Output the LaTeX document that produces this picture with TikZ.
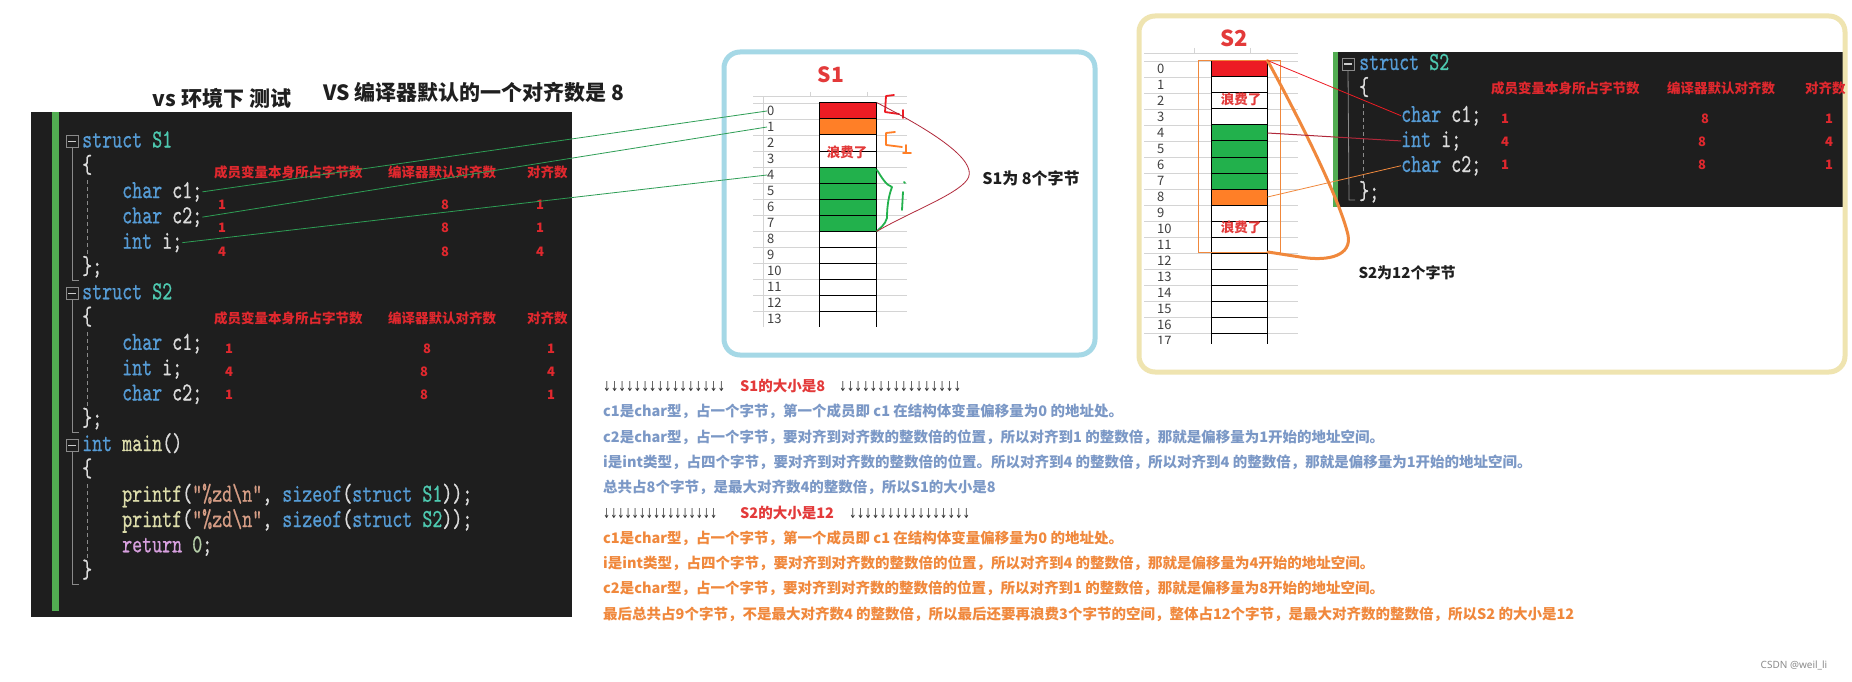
\documentclass[tikz,border=0pt]{standalone}
\usepackage{fontspec}
\usepackage{graphicx}
\setmainfont{Noto Sans CJK SC}
\newfontfamily\djv{DejaVu Sans}
\newfontfamily\wmfont{Noto Sans}
\newfontfamily\codefont{lmmono10-regular.otf}[FakeStretch=0.733,FakeBold=0.6]
\definecolor{bgdark}{HTML}{1E1E1E}
\definecolor{kw}{HTML}{569CD6}
\definecolor{ty}{HTML}{4EC9B0}
\definecolor{tx}{HTML}{DCDCDC}
\definecolor{fn}{HTML}{DCDCAA}
\definecolor{st}{HTML}{D69D85}
\definecolor{rt}{HTML}{D8A0DF}
\definecolor{nm}{HTML}{B5CEA8}
\definecolor{vsgreen}{HTML}{52AD52}
\definecolor{tred}{HTML}{E0282E}
\definecolor{cellred}{HTML}{ED1C24}
\definecolor{cellorange}{HTML}{FF7F27}
\definecolor{cellgreen}{HTML}{22B14C}
\definecolor{boxblue}{HTML}{A5D8E6}
\definecolor{boxcream}{HTML}{EFE4B0}
\definecolor{lineblue}{HTML}{7B98C6}
\definecolor{lineorange}{HTML}{F0883C}
\definecolor{headred}{HTML}{E33A3A}
\definecolor{gridc}{HTML}{D4D4D4}
\definecolor{conngreen}{HTML}{2E9E55}
\definecolor{curvered}{HTML}{B0283A}
\definecolor{guidec}{HTML}{8A8A8A}
\newcommand\ckw[1]{\textcolor{kw}{#1}}
\newcommand\cty[1]{\textcolor{ty}{#1}}
\newcommand\cfn[1]{\textcolor{fn}{#1}}
\newcommand\cst[1]{\textcolor{st}{#1}}
\newcommand\crt[1]{\textcolor{rt}{#1}}
\newcommand\cnm[1]{\textcolor{nm}{#1}}
\newcommand\darrows[1]{\resizebox{#1pt}{10pt}{\djv ↓↓↓↓↓↓↓↓↓↓↓↓↓↓↓↓}}
\tikzset{
  code/.style={font=\codefont\fontsize{26}{26}\selectfont, text=tx, inner sep=0, anchor=base west},
  hdr/.style={font=\bfseries\fontsize{13.5}{13.5}\selectfont, text=tred, inner sep=0, anchor=west},
  num/.style={font=\bfseries\fontsize{13}{13}\selectfont, text=tred, inner sep=0},
  rowlbl/.style={font=\fontsize{13}{13}\selectfont, text=black!75, inner sep=0, anchor=west},
  cell/.style={draw=black, line width=1pt, inner sep=0, minimum height=16pt},
  foldbox/.style={draw=guidec, line width=0.8pt, minimum size=12pt, inner sep=0},
  guide/.style={draw=guidec, line width=0.8pt},
  dguide/.style={draw=guidec, line width=0.8pt, dash pattern=on 4pt off 3pt},
  waste/.style={font=\bfseries\fontsize{13.5}{13.5}\selectfont, text=headred, inner sep=0},
  title/.style={font=\bfseries\fontsize{21}{21}\selectfont, text=black!88, inner sep=0},
  blk/.style={font=\bfseries\fontsize{14.5}{14.5}\selectfont, inner sep=0, anchor=base west},
  arr/.style={inner sep=0, anchor=base west, text=black!80},
  conn/.style={draw=conngreen, line width=0.8pt},
  hand/.style={line width=1.8pt, line cap=round, line join=round},
}
\begin{document}
\begin{tikzpicture}[x=1pt,y=-1pt]
\useasboundingbox (0,0) rectangle (1852,682);
\fill[white] (0,0) rectangle (1852,682);

% titles
\node[title] (t1) at (222,98) {vs 环境下 测试};
\node[title] (t2) at (474,92) {VS 编译器默认的一个对齐数是 8};

% left code panel
\fill[bgdark] (31,112) rectangle (572,617);
\fill[vsgreen] (52,112) rectangle (59,611);

\node[foldbox] (f1) at (72,141.5) {};
\node[foldbox] (f2) at (72,293.3) {};
\node[foldbox] (f3) at (72,445.1) {};
\foreach \f in {f1,f2,f3} \draw[guide, draw=black!20, line width=1.2pt] ([xshift=2.5pt]\f.west) -- ([xshift=-2.5pt]\f.east);
\draw[guide] (f1.south) -- (72,280) -- (79,280);
\draw[guide] (f2.south) -- (72,432) -- (79,432);
\draw[guide] (f3.south) -- (72,584) -- (79,584);
\draw[dguide] (87,180) -- (87,256);
\draw[dguide] (87,332) -- (87,408);
\draw[dguide] (87,484) -- (87,560);

\node[code] (L0) at (82,147.5) {\ckw{struct} \cty{S1}};
\node[code] (L1) at (82,172.8) {\{};
\node[code] (L2) at (122,198.1) {\ckw{char} c1;};
\node[code] (L3) at (122,223.4) {\ckw{char} c2;};
\node[code] (L4) at (122,248.7) {\ckw{int} i;};
\node[code] (L5) at (82,274.0) {\};};
\node[code] (L6) at (82,299.3) {\ckw{struct} \cty{S2}};
\node[code] (L7) at (82,324.6) {\{};
\node[code] (L8) at (122,349.9) {\ckw{char} c1;};
\node[code] (L9) at (122,375.2) {\ckw{int} i;};
\node[code] (L10) at (122,400.5) {\ckw{char} c2;};
\node[code] (L11) at (82,425.8) {\};};
\node[code] (L12) at (82,451.1) {\ckw{int} \cfn{main}()};
\node[code] (L13) at (82,476.4) {\{};
\node[code] (L14) at (122,501.7) {\cfn{printf}(\cst{"\%zd\textbackslash n"}, \ckw{sizeof}(\ckw{struct} \cty{S1}));};
\node[code] (L15) at (122,527.0) {\cfn{printf}(\cst{"\%zd\textbackslash n"}, \ckw{sizeof}(\ckw{struct} \cty{S2}));};
\node[code] (L16) at (122,552.3) {\crt{return} \cnm{0};};
\node[code] (L17) at (82,577.6) {\}};

% tables in left panel
\node[hdr] (h1a) at (214,172) {成员变量本身所占字节数};
\node[hdr] (h1b) at (388,172) {编译器默认对齐数};
\node[hdr] (h1c) at (527,172) {对齐数};
\node[num] (n11) at (222,205) {1}; \node[num] (n12) at (445,205) {8}; \node[num] (n13) at (540,205) {1};
\node[num] (n21) at (222,228) {1}; \node[num] (n22) at (445,228) {8}; \node[num] (n23) at (540,228) {1};
\node[num] (n31) at (222,252) {4}; \node[num] (n32) at (445,252) {8}; \node[num] (n33) at (540,252) {4};

\node[hdr] (h2a) at (214,318) {成员变量本身所占字节数};
\node[hdr] (h2b) at (388,318) {编译器默认对齐数};
\node[hdr] (h2c) at (527,318) {对齐数};
\node[num] (m11) at (229,349) {1}; \node[num] (m12) at (427,349) {8}; \node[num] (m13) at (551,349) {1};
\node[num] (m21) at (229,372) {4}; \node[num] (m22) at (424,372) {8}; \node[num] (m23) at (551,372) {4};
\node[num] (m31) at (229,395) {1}; \node[num] (m32) at (424,395) {8}; \node[num] (m33) at (551,395) {1};

% S1 box
\draw[boxblue, line width=5pt, rounded corners=16pt] (724,52) rectangle (1095,355);
\node[font=\bfseries\fontsize{21}{21}\selectfont, text=headred, inner sep=0] (s1t) at (831,75) {S1};
\draw[gridc, line width=0.8pt] (753,96.7) -- (907,96.7);
\draw[gridc, line width=0.8pt] (810,92) -- (810,96.7);
\draw[gridc, line width=0.8pt] (867,92) -- (867,96.7);
\draw[gridc, line width=0.8pt] (763,97) -- (763,327);
\foreach \k in {0,...,13} \draw[gridc, line width=0.8pt] (753,{103+16*\k}) -- (907,{103+16*\k});
\foreach \k in {0,...,13} \node[rowlbl] (s1l\k) at (767,{111+16*\k}) {\k};
\begin{scope}
\clip (800,95) rectangle (900,326.6);
\foreach \k/\c in {0/cellred,1/cellorange,2/white,3/white,4/cellgreen,5/cellgreen,6/cellgreen,7/cellgreen,8/white,9/white,10/white,11/white,12/white,13/white}
  \node[cell, fill=\c, minimum width=57pt] (s1c\k) at (847.5,{111+16*\k}) {};
\end{scope}
\node[waste] (s1w) at (847,152) {浪费了};

% hand marks S1
\draw[hand, draw=cellred] (894,95) -- (886,96) -- (885,112) -- (899,114);
\draw[hand, draw=cellred] (903,110) -- (903,118);
\draw[hand, draw=cellorange] (895,132) -- (886,133) -- (886,145) -- (902,147);
\draw[hand, draw=cellorange] (906,145) -- (906,153);
\draw[hand, draw=cellorange] (903,153) -- (911,153);
\draw[hand, draw=cellgreen] (877,170) .. controls (882,178) and (886,185) .. (892,187) .. controls (889,195) and (887,205) .. (887,218) .. controls (885,225) and (880,228) .. (877,231);
\draw[hand, draw=cellgreen] (904,182) -- (905,183);
\draw[hand, draw=cellgreen] (903,192) -- (902,210);

\draw[curvered, line width=0.8pt] (s1c0.north east) .. controls (950,140) and (978,165) .. (967,180) .. controls (956,195) and (910,212) .. (s1c7.south east);
\node[font=\bfseries\fontsize{16}{16}\selectfont, inner sep=0, text=black!88] (s1s) at (1031,178) {S1为 8个字节};

% green connectors
\draw[conn] (L2.east) -- (s1l0.west);
\draw[conn] (L3.east) -- (s1l1.west);
\draw[conn] (L4.east) -- (s1l4.west);

% S2 box
\fill[bgdark] (1333,52) rectangle (1845,207);
\fill[vsgreen] (1333,52) rectangle (1338,207);
\draw[boxcream, line width=5pt, rounded corners=16pt] (1139,16) rectangle (1845,372);
\node[font=\bfseries\fontsize{22}{22}\selectfont, text=headred, inner sep=0] (s2t) at (1234,38) {S2};

\draw[gridc, line width=0.8pt] (1144,53) -- (1298,53);
\draw[gridc, line width=0.8pt] (1194,48) -- (1194,53);
\draw[gridc, line width=0.8pt] (1250,48) -- (1250,53);
\begin{scope}
\clip (1140,45) rectangle (1300,343);
\foreach \k in {0,...,17} \draw[gridc, line width=0.8pt] (1144,{61+16*\k}) -- (1298,{61+16*\k});
\foreach \k in {0,...,17} \node[rowlbl] (s2l\k) at (1157,{69+16*\k}) {\k};
\foreach \k/\c in {0/cellred,1/white,2/white,3/white,4/cellgreen,5/cellgreen,6/cellgreen,7/cellgreen,8/cellorange,9/white,10/white,11/white,12/white,13/white,14/white,15/white,16/white,17/white}
  \node[cell, fill=\c, minimum width=56pt] (s2c\k) at (1239,{69+16*\k}) {};
\end{scope}
\node[waste] (s2w1) at (1241,99) {浪费了};
\node[waste] (s2w2) at (1241,227) {浪费了};
\draw[lineorange, line width=1pt] (1198,61) rectangle (1280,252);
\draw[lineorange, line width=3pt, line cap=round] (s2c0.north east) .. controls (1300,120) and (1340,200) .. (1348,235) .. controls (1352,255) and (1330,262) .. (1300,257) -- (1268,252);
\node[font=\bfseries\fontsize{15}{15}\selectfont, inner sep=0, text=black!88] (s2s) at (1407,273) {S2为12个字节};

% S2 inner code
\node[foldbox] (f4) at (1348,64) {};
\draw[guide, draw=black!20, line width=1.2pt] ([xshift=2.5pt]f4.west) -- ([xshift=-2.5pt]f4.east);
\draw[guide] (f4.south) -- (1349,200) -- (1355,200);
\draw[dguide] (1363,104) -- (1363,182);
\node[code] (R0) at (1359,70) {\ckw{struct} \cty{S2}};
\node[code] (R1) at (1359,95) {\{};
\node[code] (R2) at (1401,122) {\ckw{char} c1;};
\node[code] (R3) at (1401,147) {\ckw{int} i;};
\node[code] (R4) at (1401,172) {\ckw{char} c2;};
\node[code] (R5) at (1359,199) {\};};
\node[hdr] (h3a) at (1491,88) {成员变量本身所占字节数};
\node[hdr] (h3b) at (1667,88) {编译器默认对齐数};
\node[hdr] (h3c) at (1805,88) {对齐数};
\node[num] (r11) at (1505,119) {1}; \node[num] (r12) at (1705,119) {8}; \node[num] (r13) at (1829,119) {1};
\node[num] (r21) at (1505,142) {4}; \node[num] (r22) at (1702,142) {8}; \node[num] (r23) at (1829,142) {4};
\node[num] (r31) at (1505,165) {1}; \node[num] (r32) at (1702,165) {8}; \node[num] (r33) at (1829,165) {1};

\draw[cellred, line width=0.8pt] (s2c0.north east) -- (R2.west);
\draw[curvered, line width=1pt] (s2c4.east) -- (R3.west);
\draw[lineorange, line width=0.8pt] (s2c8.east) -- (R4.west);

% text block
\node[arr] (a1) at (603,391) {\darrows{122}};
\node[blk, text=headred] (b0) at (740,391) {S1的大小是8};
\node[arr] (a2) at (839,391) {\darrows{122}};
\node[blk, text=lineblue] (b1) at (603,416) {c1是char型，占一个字节，第一个成员即 c1 在结构体变量偏移量为0 的地址处。};
\node[blk, text=lineblue] (b2) at (603,442) {c2是char型，占一个字节，要对齐到对齐数的整数倍的位置，所以对齐到1 的整数倍，那就是偏移量为1开始的地址空间。};
\node[blk, text=lineblue] (b3) at (603,467) {i是int类型，占四个字节，要对齐到对齐数的整数倍的位置。所以对齐到4 的整数倍，所以对齐到4 的整数倍，那就是偏移量为1开始的地址空间。};
\node[blk, text=lineblue] (b4) at (603,492) {总共占8个字节，是最大对齐数4的整数倍，所以S1的大小是8};
\node[arr] (a3) at (603,518) {\darrows{114}};
\node[blk, text=headred] (b5) at (740,518) {S2的大小是12};
\node[arr] (a4) at (849,518) {\darrows{121}};
\node[blk, text=lineorange] (b6) at (603,543) {c1是char型，占一个字节，第一个成员即 c1 在结构体变量偏移量为0 的地址处。};
\node[blk, text=lineorange] (b7) at (603,568) {i是int类型，占四个字节，要对齐到对齐数的整数倍的位置，所以对齐到4 的整数倍，那就是偏移量为4开始的地址空间。};
\node[blk, text=lineorange] (b8) at (603,593) {c2是char型，占一个字节，要对齐到对齐数的整数倍的位置，所以对齐到1 的整数倍，那就是偏移量为8开始的地址空间。};
\node[blk, text=lineorange] (b9) at (603,619) {最后总共占9个字节，不是最大对齐数4 的整数倍，所以最后还要再浪费3个字节的空间，整体占12个字节，是最大对齐数的整数倍，所以S2 的大小是12};

\node[font=\wmfont\fontsize{10}{10}\selectfont, text=black!45, inner sep=0] (wm) at (1794,665) {CSDN @weil\_li};
\end{tikzpicture}
\end{document}
